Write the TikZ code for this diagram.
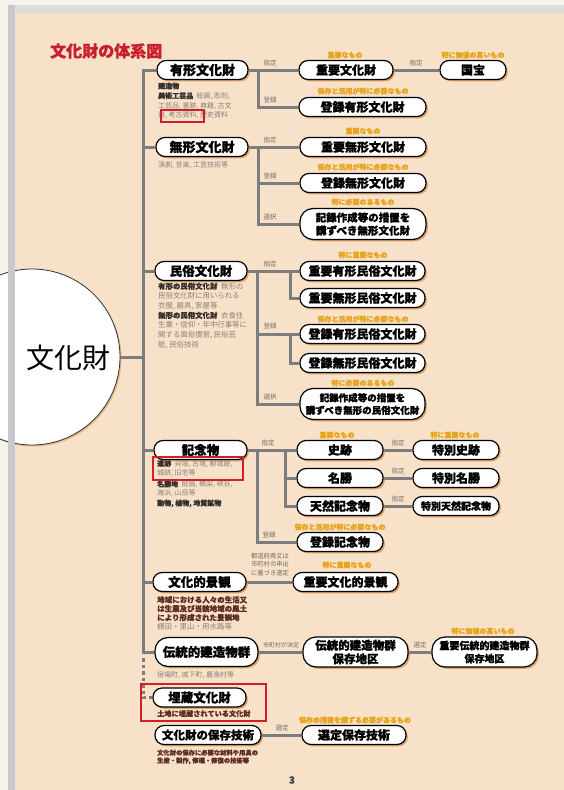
\documentclass[tikz,border=0pt]{standalone}
\usepackage{fontspec}
\newfontfamily\jp{Noto Sans CJK JP}[BoldFeatures={FakeBold=1.1}]
\usetikzlibrary{shadows}
\newcommand\myfs[1]{\fontsize{#1}{#1}\selectfont}
\definecolor{peach}{RGB}{247,226,201}
\definecolor{offw}{RGB}{246,243,236}
\definecolor{bandc}{RGB}{222,220,215}
\definecolor{stripec}{RGB}{200,200,205}
\definecolor{linec}{RGB}{125,125,125}
\definecolor{labc}{RGB}{110,105,100}
\definecolor{orangec}{RGB}{232,165,30}
\definecolor{descc}{RGB}{140,128,120}
\definecolor{dkc}{RGB}{55,48,45}
\definecolor{brc}{RGB}{95,45,35}
\definecolor{titlec}{RGB}{200,30,45}
\definecolor{redc}{RGB}{210,30,40}
\definecolor{shadowc}{RGB}{210,140,75}
\newcommand\dk[1]{{\bfseries\color{dkc}#1}}
\newcommand\br[1]{{\bfseries\color{brc}#1}}
\pgfdeclarelayer{back}
\pgfdeclarelayer{bg}
\pgfdeclarelayer{front}
\pgfsetlayers{back,bg,main,front}
\begin{document}
\begin{tikzpicture}[x=1pt,y=-1pt,
  box/.style={draw=black, line width=1.2pt, fill=white, rounded corners=9pt, inner sep=0pt,
    minimum height=19pt, align=center, font=\jp\bfseries\myfs{12},
    drop shadow={shadow xshift=1.8pt, shadow yshift=-1.8pt, fill=shadowc, opacity=.75}},
  cat/.style={box, font=\jp\bfseries\myfs{12.5}},
  tallbox/.style={box, rounded corners=13pt, minimum height=31pt},
  conn/.style={draw=linec, line width=3pt},
  lab/.style={font=\jp\myfs{6.5}, text=labc, inner sep=0pt},
  org/.style={font=\jp\bfseries\myfs{7}, text=orangec, inner sep=0pt},
  desc/.style={font=\jp\fontsize{7}{9.7}\selectfont, text=descc, inner sep=0pt, anchor=north west, align=left},
  redbox/.style={draw=redc, line width=1.4pt}
]
\useasboundingbox (0,0) rectangle (564,790);
\begin{pgfonlayer}{back}
\fill[offw] (0,0) rectangle (564,790);
\fill[peach] (15,14) rectangle (564,790);
\fill[bandc] (15,5) rectangle (564,14);
\end{pgfonlayer}

% title
\node[font=\jp\bfseries\myfs{16}, text=titlec, anchor=west, inner sep=0pt] (title) at (50,51) {文化財の体系図};

% big circle
\node[circle, draw=black!80, line width=0.8pt, fill=white, minimum size=176pt, inner sep=0pt,
  drop shadow={shadow xshift=1.5pt, shadow yshift=-1.5pt, fill=shadowc, opacity=.5}] (bk) at (32,357) {};
\node[font=\jp\myfs{28}, inner sep=0pt] (bkt) at (68,358) {文化財};
\begin{pgfonlayer}{front}
\fill[stripec] (8,5) rectangle (15,790);
\end{pgfonlayer}

% categories
\node[cat, minimum width=91pt, font=\jp\bfseries\myfs{13}] (yk) at (202.5,70) {有形文化財};
\node[cat, minimum width=92pt, font=\jp\bfseries\myfs{13}] (mk) at (202,147) {無形文化財};
\node[cat, minimum width=92pt] (mz) at (201,271) {民俗文化財};
\node[cat, minimum width=93pt] (kn) at (200.5,450) {記念物};
\node[cat, minimum width=93pt] (kk) at (199.5,582) {文化的景観};
\node[cat, minimum width=103pt, minimum height=29pt, rounded corners=13pt] (dk) at (206.5,652) {伝統的建造物群};
\node[cat, minimum width=93pt] (mb) at (199.5,697.5) {埋蔵文化財};
\node[cat, minimum width=106pt, font=\jp\bfseries\myfs{11.5}] (hg) at (208,735) {文化財の保存技術};

% descriptions
\node[desc] (yk-d) at (158,82.5) {\dk{建造物}\\\dk{美術工芸品}\enspace 絵画, 彫刻,\\工芸品, 書跡, 典籍, 古文\\書, 考古資料, 歴史資料};
\node[desc] (mk-d) at (158,161) {演劇, 音楽, 工芸技術等};
\node[desc, font=\jp\fontsize{7.4}{9.7}\selectfont] (mz-d) at (158,282.5) {\dk{有形の民俗文化財}\enspace 無形の\\民俗文化財に用いられる\\衣服, 器具, 家屋等\\\dk{無形の民俗文化財}\enspace 衣食住\\生業・信仰・年中行事等に\\関する風俗慣習, 民俗芸\\能, 民俗技術};
\node[desc, font=\jp\fontsize{7}{9}\selectfont] (kn-d) at (157,460) {\dk{遺跡}\enspace 貝塚, 古墳, 都城跡,\\城跡, 旧宅等\\[2.5pt]\dk{名勝地}\enspace 庭園, 橋梁, 峡谷,\\海浜, 山岳等\\[1pt]\dk{動物, 植物, 地質鉱物}};
\node[desc, font=\jp\fontsize{7.5}{8.9}\selectfont] (kk-d) at (157,596) {\br{地域における人々の生活又}\\\br{は生業及び当該地域の風土}\\\br{により形成された景観地}\\棚田・里山・用水路等};
\node[desc] (dk-d) at (157,671.5) {宿場町, 城下町, 農漁村等};
\node[desc, font=\jp\fontsize{7.2}{9}\selectfont] (mb-d) at (157,710) {\br{土地に埋蔵されている文化財}};
\node[desc, font=\jp\fontsize{6.3}{7.8}\selectfont] (hg-d) at (157,749.5) {\br{文化財の保存に必要な材料や用具の}\\\br{生産・製作, 修理・修復の技術等}};

% red boxes
\draw[redbox] (161,110) rectangle (204,122);
\draw[redbox] (153,457) rectangle (243,480);
\draw[redbox] (141,684) rectangle (266,721);

% sub nodes
\node[box, minimum width=94pt] (jy) at (346,70) {重要文化財};
\node[box, minimum width=66pt] (kh) at (473,70) {国宝};
\node[box, minimum width=127pt] (ty) at (362.5,107) {登録有形文化財};
\node[box, minimum width=126pt] (jm) at (363,147) {重要無形文化財};
\node[box, minimum width=126pt] (tm) at (363,183) {登録無形文化財};
\node[tallbox, minimum width=126pt, font=\jp\bfseries\fontsize{10.5}{13}\selectfont] (km) at (363,224) {記録作成等の措置を\\講ずべき無形文化財};
\node[box, minimum width=125pt] (jym) at (362.5,271) {重要有形民俗文化財};
\node[box, minimum width=125pt] (jmm) at (362.5,298) {重要無形民俗文化財};
\node[box, minimum width=125pt] (tym) at (362.5,334) {登録有形民俗文化財};
\node[box, minimum width=125pt] (tmm) at (362.5,363) {登録無形民俗文化財};
\node[tallbox, minimum width=125pt, font=\jp\bfseries\fontsize{9.5}{12.5}\selectfont] (kmm) at (362.5,404) {記録作成等の措置を\\講ずべき無形の民俗文化財};
\node[box, minimum width=86pt] (sh) at (340,450) {史跡};
\node[box, minimum width=86pt] (ms) at (340,478) {名勝};
\node[box, minimum width=86pt] (tk) at (340,506) {天然記念物};
\node[box, minimum width=86pt] (tsh) at (456,450) {特別史跡};
\node[box, minimum width=86pt] (tms) at (456,478) {特別名勝};
\node[box, minimum width=86pt, font=\jp\bfseries\myfs{10}] (ttk) at (456,506) {特別天然記念物};
\node[box, minimum width=86pt] (tkn) at (340,542) {登録記念物};
\node[box, minimum width=105pt] (jkk) at (345.5,582) {重要文化的景観};
\node[box, minimum width=105pt, minimum height=30pt, rounded corners=13pt, font=\jp\bfseries\fontsize{11.5}{13.5}\selectfont] (dh) at (355.5,652) {伝統的建造物群\\保存地区};
\node[box, minimum width=105pt, minimum height=30pt, rounded corners=13pt, font=\jp\bfseries\fontsize{10}{13}\selectfont] (jdh) at (484.5,652) {重要伝統的建造物群\\保存地区};
\node[box, minimum width=104pt] (shg) at (354,735) {選定保存技術};

% orange notes
\node[org] (o1) at (345,55) {重要なもの};
\node[org] (o2) at (473,55) {特に価値の高いもの};
\node[org] (o3) at (363,91) {保存と活用が特に必要なもの};
\node[org] (o4) at (363,131) {重要なもの};
\node[org] (o5) at (363,167) {保存と活用が特に必要なもの};
\node[org] (o6) at (363,202) {特に必要のあるもの};
\node[org] (o7) at (363,255) {特に重要なもの};
\node[org] (o8) at (363,319) {保存と活用が特に必要なもの};
\node[org] (o9) at (363,383) {特に必要のあるもの};
\node[org] (o10) at (337,435) {重要なもの};
\node[org] (o11) at (455,435) {特に重要なもの};
\node[org] (o12) at (340,527) {保存と活用が特に必要なもの};
\node[org] (o13) at (347,565) {特に重要なもの};
\node[org] (o14) at (483,631) {特に価値の高いもの};
\node[org] (o15) at (355,720) {保存の措置を講ずる必要があるもの};

% small labels
\node[lab] (l1) at (270,63) {指定};
\node[lab] (l2) at (416,63) {指定};
\node[lab] (l3) at (270,100) {登録};
\node[lab] (l4) at (270,140) {指定};
\node[lab] (l5) at (270,176) {登録};
\node[lab] (l6) at (270,217) {選択};
\node[lab] (l7) at (270,264) {指定};
\node[lab] (l8) at (270,326) {登録};
\node[lab] (l9) at (270,397) {選択};
\node[lab] (l10) at (268,443) {指定};
\node[lab] (l11) at (398,443) {指定};
\node[lab] (l12) at (398,471) {指定};
\node[lab] (l13) at (398,499) {指定};
\node[lab] (l14) at (269,535) {登録};
\node[lab, align=center, font=\jp\fontsize{6.3}{8.7}\selectfont] (l15) at (270,564.5) {都道府県又は\\市町村の申出\\に基づき選定};
\node[lab, font=\jp\myfs{6}] (l16) at (281,645) {市町村が決定};
\node[lab] (l17) at (420,645) {選定};
\node[lab] (l18) at (282,728) {選定};

% page number
\node[font=\jp\bfseries\myfs{10}, text=black!70, inner sep=0pt] (pg) at (292,780) {3};

% connectors
\begin{pgfonlayer}{bg}
\coordinate (T) at (143,0);
\draw[conn] (yk.west) -| (T |- dk.west) -- (dk.west);
\draw[conn] (bk.east) -- (T |- bk.east);
\draw[conn] (T |- mk.west) -- (mk.west);
\draw[conn] (T |- mz.west) -- (mz.west);
\draw[conn] (T |- kn.west) -- (kn.west);
\draw[conn] (T |- kk.west) -- (kk.west);
\coordinate (dstart) at (143,658);
\draw[conn, dash pattern=on 3.5pt off 3pt] (dstart) |- (mb.west);
% yukei
\coordinate (b1) at (258,70);
\draw[conn] (yk.east) -- (jy.west);
\draw[conn] (jy.east) -- (kh.west);
\draw[conn] (b1) |- (ty.west);
% mukei
\coordinate (b2) at (258,147);
\draw[conn] (mk.east) -- (jm.west);
\draw[conn] (b2) |- (tm.west);
\draw[conn] (b2) |- (km.west);
% minzoku
\coordinate (b3) at (257,271);
\coordinate (b3a) at (290,271);
\coordinate (b3b) at (290,334);
\draw[conn] (mz.east) -- (jym.west);
\draw[conn] (b3) |- (tym.west);
\draw[conn] (b3) |- (kmm.west);
\draw[conn] (b3a) |- (jmm.west);
\draw[conn] (b3b) |- (tmm.west);
% kinenbutsu
\coordinate (b4) at (257,450);
\coordinate (b4a) at (285,450);
\draw[conn] (kn.east) -- (sh.west);
\draw[conn] (b4) |- (tkn.west);
\draw[conn] (b4a) |- (ms.west);
\draw[conn] (b4a) |- (tk.west);
\draw[conn] (sh.east) -- (tsh.west);
\draw[conn] (ms.east) -- (tms.west);
\draw[conn] (tk.east) -- (ttk.west);
% others
\draw[conn] (kk.east) -- (jkk.west);
\draw[conn] (dk.east) -- (dh.west);
\draw[conn] (dh.east) -- (jdh.west);
\draw[conn] (hg.east) -- (shg.west);
\end{pgfonlayer}
\end{tikzpicture}
\end{document}
